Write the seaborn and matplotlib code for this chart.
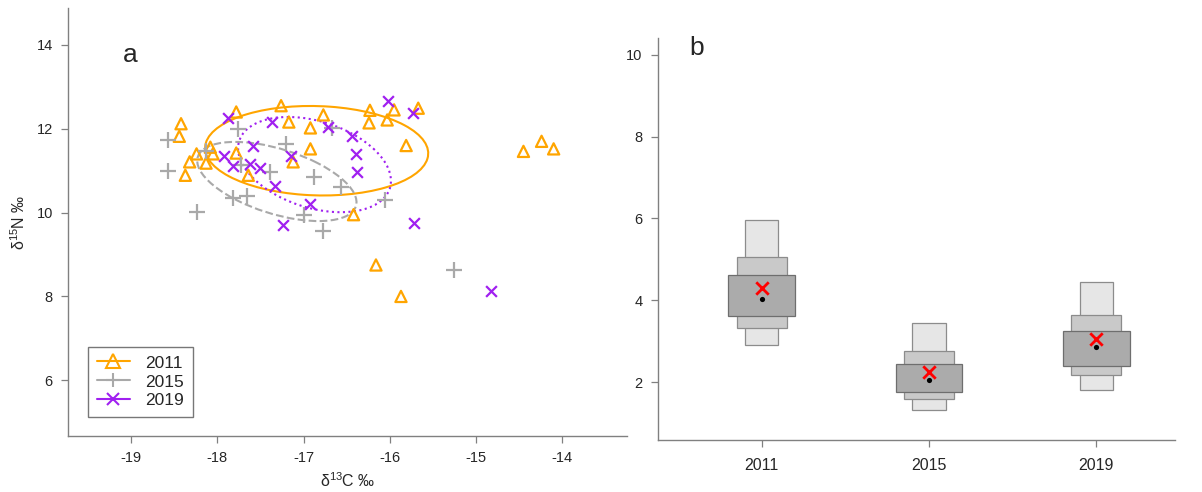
import numpy as np
import pandas as pd
import matplotlib
matplotlib.use("Agg")
import matplotlib.pyplot as plt
from matplotlib.patches import Ellipse
from matplotlib.lines import Line2D
import seaborn as sns

# ---------------- data: panel a ----------------
years = ["2011", "2015", "2019"]
x2011 = [-18.42, -18.44, -17.78, -17.26, -17.17, -16.77, -16.92, -16.92, -17.12, -17.78,
         -17.64, -18.08, -18.05, -18.24, -18.32, -18.13, -18.37, -16.42, -16.23, -15.95,
         -15.67, -16.24, -16.03, -15.81, -14.45, -14.24, -14.10, -16.16, -15.87]
y2011 = [12.12, 11.82, 12.40, 12.55, 12.16, 12.33, 12.02, 11.52, 11.21, 11.42,
         10.89, 11.56, 11.40, 11.40, 11.21, 11.18, 10.89, 9.95, 12.44, 12.45,
         12.49, 12.14, 12.21, 11.60, 11.46, 11.70, 11.52, 8.75, 8.00]
x2015 = [-18.57, -18.57, -18.24, -17.76, -18.13, -17.72, -17.39, -17.20, -16.88, -17.82,
         -17.65, -17.00, -16.77, -16.56, -16.67, -16.06, -15.26]
y2015 = [11.74, 11.00, 10.02, 11.99, 11.46, 11.13, 10.98, 11.64, 10.86, 10.35,
         10.39, 9.94, 9.55, 10.62, 12.02, 10.30, 8.62]
x2019 = [-17.87, -17.36, -16.72, -16.44, -16.39, -16.38, -17.59, -17.92, -17.82, -17.62,
         -17.51, -17.15, -17.33, -16.93, -17.24, -16.02, -15.73, -15.72, -14.83]
y2019 = [12.25, 12.16, 12.04, 11.82, 11.40, 10.98, 11.58, 11.36, 11.10, 11.17,
         11.06, 11.36, 10.63, 10.21, 9.70, 12.67, 12.37, 9.75, 8.14]

# ---------------- data: panel b ----------------
ci95_lo = [2.90, 1.32, 1.80]
ci95_hi = [5.95, 3.44, 4.44]
ci75_lo = [3.32, 1.59, 2.17]
ci75_hi = [5.05, 2.76, 3.63]
ci50_lo = [3.61, 1.76, 2.39]
ci50_hi = [4.61, 2.44, 3.24]
mode_vals = [4.02, 2.05, 2.85]
seac_vals = [4.29, 2.24, 3.05]

sns.set_style("white")
plt.rcParams["font.family"] = ["Liberation Sans", "DejaVu Sans"]
plt.rcParams["mathtext.default"] = "regular"

ORANGE = "#FFA500"
GRAY = "#A9A9A9"
PURPLE = "#A020F0"
SPINE = "#808080"

fig = plt.figure(figsize=(12.02, 4.92), dpi=100)
ax1 = fig.add_axes([0.0566, 0.1138, 0.4650, 0.8699])
ax2 = fig.add_axes([0.5474, 0.1057, 0.4301, 0.8171])

df = pd.concat([
    pd.DataFrame({"x": x2011, "y": y2011, "year": "2011"}),
    pd.DataFrame({"x": x2015, "y": y2015, "year": "2015"}),
    pd.DataFrame({"x": x2019, "y": y2019, "year": "2019"}),
])

styles = {
    "2011": dict(color=ORANGE, marker="^", ls="-", size=65),
    "2015": dict(color=GRAY, marker="+", ls="--", size=130),
    "2019": dict(color=PURPLE, marker="x", ls=":", size=60),
}

for yr in years:
    d = df[df["year"] == yr]
    st = styles[yr]
    if st["marker"] == "^":
        sns.scatterplot(data=d, x="x", y="y", ax=ax1, marker="^", s=st["size"],
                        facecolors="none", edgecolor=st["color"], linewidth=1.6, zorder=3)
    else:
        sns.scatterplot(data=d, x="x", y="y", ax=ax1, marker=st["marker"], s=st["size"],
                        color=st["color"], linewidth=1.6, zorder=3)
    # standard ellipse (small-sample corrected) from covariance
    cov = np.cov(d["x"], d["y"])
    vals, vecs = np.linalg.eigh(cov)
    order = vals.argsort()[::-1]
    vals, vecs = vals[order], vecs[:, order]
    ang = np.degrees(np.arctan2(vecs[1, 0], vecs[0, 0]))
    n = len(d)
    scale = np.sqrt((n - 1) / (n - 2))
    w, h = 2 * np.sqrt(vals) * scale
    ax1.add_patch(Ellipse((d["x"].mean(), d["y"].mean()), w, h, angle=ang,
                          fill=False, edgecolor=st["color"], linestyle=st["ls"],
                          linewidth=1.5, zorder=2))

ax1.set_xlim(-19.73, -13.25)
ax1.set_ylim(4.67, 14.88)
ax1.set_xticks([-19, -18, -17, -16, -15, -14])
ax1.set_xticklabels(["-19", "-18", "-17", "-16", "-15", "-14"])
ax1.set_yticks([6, 8, 10, 12, 14])
ax1.set_xlabel("δ$^{13}$C ‰", fontsize=11.5, labelpad=4)
ax1.set_ylabel("δ$^{15}$N ‰", fontsize=11.5, labelpad=6)
ax1.text(0.111, 0.89, "a", transform=ax1.transAxes, fontsize=19, ha="center", va="center")

handles = [Line2D([0], [0], color=styles[y]["color"], marker=styles[y]["marker"],
                  markerfacecolor="none", markersize=10 if y != "2019" else 8,
                  markeredgewidth=1.5, lw=1.5) for y in years]
leg = ax1.legend(handles, years, loc="lower left", bbox_to_anchor=(0.036, 0.044),
                 frameon=True, fancybox=False, fontsize=12.5, handlelength=1.9,
                 borderpad=0.5, labelspacing=0.22, handletextpad=0.9,
                 borderaxespad=0.0)
leg.get_frame().set_edgecolor("#555555")
leg.get_frame().set_linewidth(1.0)

# ---------------- panel b ----------------
pos = np.arange(1, 4)
ax2.bar(pos, np.array(ci95_hi) - np.array(ci95_lo), bottom=ci95_lo, width=0.2,
        color="#E6E6E6", edgecolor="#8c8c8c", linewidth=0.9, zorder=2)
ax2.bar(pos, np.array(ci75_hi) - np.array(ci75_lo), bottom=ci75_lo, width=0.3,
        color="#C9C9C9", edgecolor="#8c8c8c", linewidth=0.9, zorder=3)
ax2.bar(pos, np.array(ci50_hi) - np.array(ci50_lo), bottom=ci50_lo, width=0.4,
        color="#ABABAB", edgecolor="#6e6e6e", linewidth=0.9, zorder=4)
bdf = pd.DataFrame({"pos": pos, "mode": mode_vals, "seac": seac_vals})
sns.scatterplot(data=bdf, x="pos", y="mode", ax=ax2, color="black", s=14,
                linewidth=0, zorder=5)
sns.scatterplot(data=bdf, x="pos", y="seac", ax=ax2, color="red", marker="x", s=80,
                linewidth=2.0, zorder=6)
ax2.set_xlim(0.38, 3.47)
ax2.set_ylim(0.585, 10.41)
ax2.set_xticks(pos)
ax2.set_xticklabels(years)
ax2.set_yticks([2, 4, 6, 8, 10])
ax2.set_xlabel("")
ax2.set_ylabel("")
ax2.text(0.075, 0.975, "b", transform=ax2.transAxes, fontsize=19, ha="center", va="center")

for ax in (ax1, ax2):
    sns.despine(ax=ax)
    for s in ("left", "bottom"):
        ax.spines[s].set_color(SPINE)
        ax.spines[s].set_linewidth(1.0)
    ax.tick_params(axis="both", which="both", direction="out", length=5, width=0.9,
                   color=SPINE, labelsize=10.5, pad=6, left=True, bottom=True)
    ax.grid(False)
ax2.tick_params(axis="x", labelsize=11.5, pad=8)

fig.savefig("out.png", dpi=100)
